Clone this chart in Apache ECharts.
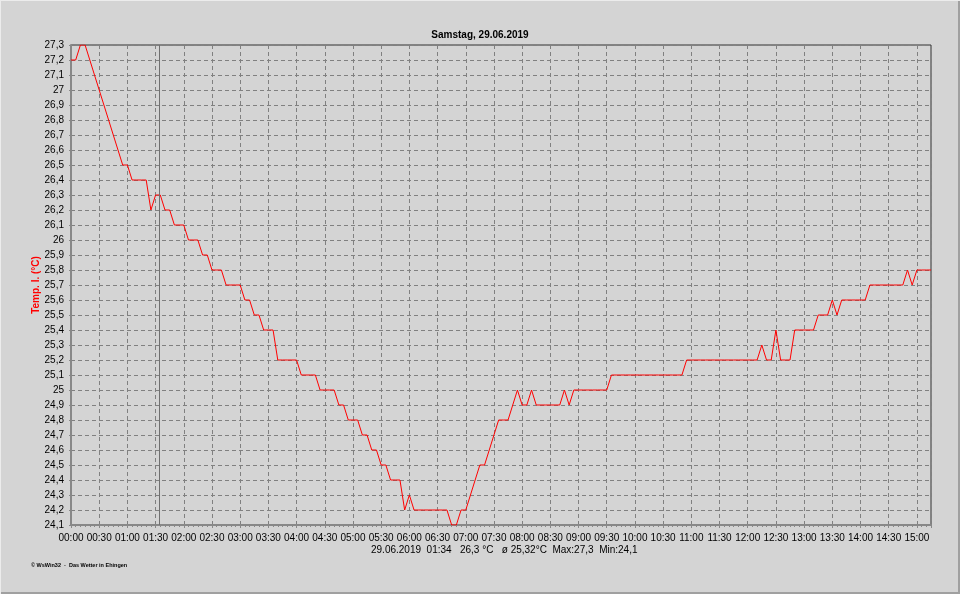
<!DOCTYPE html>
<html>
<head>
<meta charset="utf-8">
<script src="https://cdn.jsdelivr.net/npm/echarts@6/dist/echarts.min.js"></script>
<style>
html,body{margin:0;padding:0;background:#d4d4d4;}
#c{width:960px;height:594px;}
</style>
</head>
<body>
<div id="c"></div>
<script>
// Sampling: one value every 5 minutes starting 00:00
var startMinute = 0;
var stepMinutes = 5;
var temps = [
  27.2,27.2,27.3,27.3,27.2,27.1,27.0,26.9,26.8,26.7,26.6,26.5,   // 00:00-00:55
  26.5,26.4,26.4,26.4,26.4,26.2,26.3,26.3,26.2,26.2,26.1,26.1,   // 01:00-01:55
  26.1,26.0,26.0,26.0,25.9,25.9,25.8,25.8,25.8,25.7,25.7,25.7,   // 02:00-02:55
  25.7,25.6,25.6,25.5,25.5,25.4,25.4,25.4,25.2,25.2,25.2,25.2,   // 03:00-03:55
  25.2,25.1,25.1,25.1,25.1,25.0,25.0,25.0,25.0,24.9,24.9,24.8,   // 04:00-04:55
  24.8,24.8,24.7,24.7,24.6,24.6,24.5,24.5,24.4,24.4,24.4,24.2,   // 05:00-05:55
  24.3,24.2,24.2,24.2,24.2,24.2,24.2,24.2,24.2,24.1,24.1,24.2,   // 06:00-06:55
  24.2,24.3,24.4,24.5,24.5,24.6,24.7,24.8,24.8,24.8,24.9,25.0,   // 07:00-07:55
  24.9,24.9,25.0,24.9,24.9,24.9,24.9,24.9,24.9,25.0,24.9,25.0,   // 08:00-08:55
  25.0,25.0,25.0,25.0,25.0,25.0,25.0,25.1,25.1,25.1,25.1,25.1,   // 09:00-09:55
  25.1,25.1,25.1,25.1,25.1,25.1,25.1,25.1,25.1,25.1,25.1,25.2,   // 10:00-10:55
  25.2,25.2,25.2,25.2,25.2,25.2,25.2,25.2,25.2,25.2,25.2,25.2,   // 11:00-11:55
  25.2,25.2,25.2,25.3,25.2,25.2,25.4,25.2,25.2,25.2,25.4,25.4,   // 12:00-12:55
  25.4,25.4,25.4,25.5,25.5,25.5,25.6,25.5,25.6,25.6,25.6,25.6,   // 13:00-13:55
  25.6,25.6,25.7,25.7,25.7,25.7,25.7,25.7,25.7,25.7,25.8,25.7,   // 14:00-14:55
  25.8,25.8,25.8,25.8                                            // 15:00-15:15
];
var titleText = 'Samstag, 29.06.2019';
var yAxisName = 'Temp. I. (°C)';
var infoText = '29.06.2019  01:34   26,3 °C   ø 25,32°C  Max:27,3  Min:24,1';
var footerText = '© WsWin32  -  Das Wetter in Ehingen';
var cursorMinute = 94;
var yMin = 24.1, yMax = 27.3, yStep = 0.1;
var xMin = 0, xMax = 915, xStep = 30;

var seriesData = temps.map(function (v, i) { return [startMinute + i * stepMinutes, v]; });

function hhmm(m) {
  var h = Math.floor(m / 60), mm = Math.round(m % 60);
  return (h < 10 ? '0' : '') + h + ':' + (mm < 10 ? '0' : '') + mm;
}
var FONT = '"Liberation Sans", Arial, sans-serif';

var chart = echarts.init(document.getElementById('c'), null, {renderer: 'canvas'});
chart.setOption({
  backgroundColor: '#d4d4d4',
  animation: false,
  title: {
    text: titleText, left: 'center', top: 25,
    textStyle: {fontFamily: FONT, fontSize: 10, fontWeight: 'bold', color: '#000'}
  },
  grid: {
    left: 71, right: 29, top: 45, bottom: 69,
    show: true, backgroundColor: 'transparent', borderColor: '#333', borderWidth: 1
  },
  xAxis: {
    type: 'value', min: xMin, max: xMax, interval: xStep,
    axisLine: {show: true, lineStyle: {color: '#888', width: 2}},
    axisTick: {show: true, length: 3, lineStyle: {color: '#888'}},
    minorTick: {show: true, splitNumber: 6, length: 2, lineStyle: {color: '#888'}},
    axisLabel: {
      fontFamily: FONT, fontSize: 10, color: '#000', margin: 8,
      formatter: function (v) { return v % 30 === 0 && v <= 900 ? hhmm(v) : ''; },
      showMaxLabel: false
    },
    splitLine: {show: true, lineStyle: {color: '#808080', type: [4, 3], width: 1}}
  },
  yAxis: {
    type: 'value', min: yMin, max: yMax, interval: yStep,
    axisLine: {show: true, lineStyle: {color: '#888', width: 2}},
    axisTick: {show: true, length: 2, lineStyle: {color: '#888'}},
    axisLabel: {
      fontFamily: FONT, fontSize: 10, color: '#000', margin: 7,
      formatter: function (v) { return String(Math.round(v * 10) / 10).replace('.', ','); }
    },
    splitLine: {show: true, lineStyle: {color: '#808080', type: [4, 3], width: 1}}
  },
  series: [{
    type: 'line',
    data: seriesData,
    showSymbol: false,
    symbol: 'none',
    lineStyle: {color: '#ff0000', width: 1},
    silent: true,
    markLine: {
      silent: true, symbol: 'none', label: {show: false},
      lineStyle: {color: '#707070', type: 'solid', width: 1},
      data: [{xAxis: cursorMinute}]
    }
  }],
  graphic: [
    {type: 'text', x: 36, y: 285, rotation: Math.PI / 2,
     style: {text: yAxisName, fontFamily: FONT, fontSize: 10, fontWeight: 'bold', fill: '#ff0000',
             align: 'center', verticalAlign: 'middle'}},
    {type: 'text', left: 371, top: 545,
     style: {text: infoText, fontFamily: FONT, fontSize: 10, fill: '#000'}},
    {type: 'text', left: 31, top: 562,
     style: {text: footerText, fontFamily: FONT, fontSize: 5.5, fontWeight: 'bold', fill: '#000'}},
    {type: 'rect', shape: {x: 0, y: 592, width: 960, height: 2}, style: {fill: '#a0a0a0'}},
    {type: 'rect', shape: {x: 958, y: 0, width: 2, height: 594}, style: {fill: '#a0a0a0'}},
    {type: 'rect', shape: {x: 0, y: 0, width: 960, height: 1}, style: {fill: '#ececec'}},
    {type: 'rect', shape: {x: 0, y: 0, width: 1, height: 594}, style: {fill: '#ececec'}}
  ]
});
</script>
</body>
</html>
